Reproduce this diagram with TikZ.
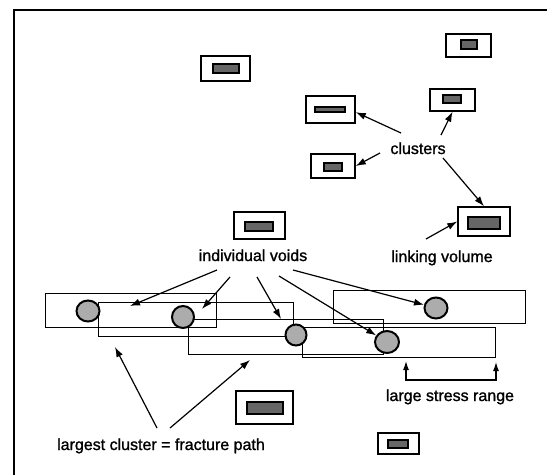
\documentclass[tikz,border=0pt]{standalone}
\usepackage{fontspec}
\setmainfont{Liberation Sans}[BoldFont=Liberation Sans, BoldFeatures={FakeBold=1.2}]
\usetikzlibrary{arrows.meta,shapes.geometric}
\begin{document}
\begin{tikzpicture}[x=1pt,y=-1pt,
  frameline/.style={line width=2.2pt},
  clbox/.style={draw, line width=1.5pt, inner sep=0pt},
  voidbox/.style={draw, line width=1.1pt, fill=black!60, inner sep=0pt},
  bigrect/.style={draw, line width=1pt},
  hole/.style={ellipse, draw, line width=2pt, fill=gray!65, inner sep=0pt},
  arr/.style={-{Latex[length=10pt,width=7pt]}, line width=1.2pt},
  lbl/.style={font=\fontsize{16}{19}\selectfont\bfseries, inner sep=0pt, anchor=base}]
\useasboundingbox (0,0) rectangle (547,475);
% frame
\draw[frameline] (547,10) -- (14,10) -- (14,475);

% cluster boxes (outer) and voids (inner)
\node[clbox, minimum width=45pt, minimum height=23pt] (b1) at (468.5,45.5) {};
\node[voidbox, minimum width=16pt, minimum height=9pt] (v1) at (469,44.5) {};
\node[clbox, minimum width=49pt, minimum height=25pt] (b2) at (225.5,68.5) {};
\node[voidbox, minimum width=26pt, minimum height=9pt] (v2) at (226,68.5) {};
\node[clbox, minimum width=49pt, minimum height=27pt] (b3) at (330.5,109.5) {};
\node[voidbox, minimum width=30pt, minimum height=5pt] (v3) at (330,109.5) {};
\node[clbox, minimum width=45pt, minimum height=22pt] (b4) at (452.5,100) {};
\node[voidbox, minimum width=18pt, minimum height=8pt] (v4) at (452,99) {};
\node[clbox, minimum width=44pt, minimum height=24pt] (b5) at (333,166) {};
\node[voidbox, minimum width=18pt, minimum height=8pt] (v5) at (333,167) {};
\node[clbox, minimum width=52pt, minimum height=29pt] (b6) at (484,221.5) {};
\node[voidbox, minimum width=32pt, minimum height=12pt] (v6) at (484,223) {};
\node[clbox, minimum width=51pt, minimum height=27pt] (b7) at (259.5,225.5) {};
\node[voidbox, minimum width=28pt, minimum height=9pt] (v7) at (259,226.5) {};
\node[clbox, minimum width=57pt, minimum height=33pt] (b8) at (264.5,407.5) {};
\node[voidbox, minimum width=36pt, minimum height=12pt] (v8) at (265,408) {};
\node[clbox, minimum width=41pt, minimum height=21pt] (b9) at (398.5,443.5) {};
\node[voidbox, minimum width=20pt, minimum height=8pt] (v9) at (398,444) {};

% largest cluster: overlapping linking volumes
\draw[bigrect] (45,293) rectangle (216,327);
\draw[bigrect] (98,302) rectangle (293,336);
\draw[bigrect] (188,319) rectangle (383,354);
\draw[bigrect] (302,327) rectangle (495,357);
\draw[bigrect] (333,290) rectangle (525,323);

% individual voids in the cluster
\node[hole, minimum width=23pt, minimum height=21pt] (h1) at (88,311) {};
\node[hole, minimum width=22pt, minimum height=22pt] (h2) at (183,317) {};
\node[hole, minimum width=21pt, minimum height=21pt] (h3) at (296,335) {};
\node[hole, minimum width=24pt, minimum height=22pt] (h4) at (387,342) {};
\node[hole, minimum width=23pt, minimum height=21pt] (h5) at (436,308) {};

% labels
\node[lbl] (lclusters) at (418,154) {clusters};
\node[lbl] (llink) at (442,262) {linking volume};
\node[lbl] (lvoids) at (253,261) {individual voids};
\node[lbl] (lstress) at (450,401) {large stress range};
\node[lbl] (lpath) at (161,450) {largest cluster = fracture path};

% arrows from "clusters"
\coordinate (c3) at (401,133);
\coordinate (c4) at (441,135);
\coordinate (c5) at (380,153);
\coordinate (c6) at (443,158);
\draw[arr] (c3) -- (b3.-6);
\draw[arr] (c4) -- (b4.south);
\draw[arr] (c5) -- (b5.east);
\draw[arr] (c6) -- (b6.north);

% linking volume
\coordinate (cl) at (426,239);
\draw[arr] (cl) -- (b6.west);

% individual voids arrows
\coordinate (i1) at (217,270);
\coordinate (i2) at (230,277);
\coordinate (i3) at (257,277);
\coordinate (i4) at (279,276);
\coordinate (i5) at (293,270);
\coordinate (t1) at (130,306);
\coordinate (t2) at (202,309);
\coordinate (t3) at (281,319);
\draw[arr] (i1) -- (t1);
\draw[arr] (i2) -- (t2);
\draw[arr] (i3) -- (t3);
\draw[arr] (i4) -- (h4);
\draw[arr] (i5) -- (h5);

% fracture path arrows
\coordinate (p1) at (157,428);
\coordinate (p2) at (170,428);
\coordinate (q1) at (115,347);
\coordinate (q2) at (250,360);
\draw[arr] (p1) -- (q1);
\draw[arr] (p2) -- (q2);

% large stress range bracket
\coordinate (s1) at (406,361);
\coordinate (s2) at (496,362);
\draw[line width=1.2pt, {Latex[length=9pt,width=6pt]}-{Latex[length=9pt,width=6pt]}] (s1) -- (406,380) -- (496,380) -- (s2);
\end{tikzpicture}
\end{document}
